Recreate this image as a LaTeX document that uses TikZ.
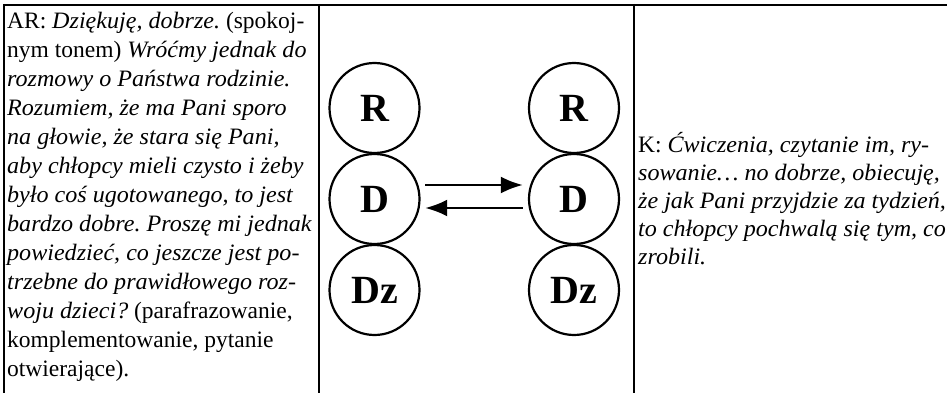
\documentclass[tikz,border=0pt]{standalone}
\usepackage{fontspec}
\setmainfont{Liberation Serif}[ItalicFeatures={FakeStretch=1.025}]
\usetikzlibrary{arrows.meta}
\begin{document}
\frenchspacing
\begin{tikzpicture}[x=1pt,y=-1pt,
  rule/.style={line width=2pt},
  member/.style={circle,draw,line width=2.2pt,minimum size=90pt,inner sep=0pt,
    font=\fontsize{40}{40}\selectfont\bfseries},
  flow/.style={line width=2.8pt,-{Latex[length=22pt,width=17pt]}},
  celltext/.style={align=left,inner sep=0pt}]
\useasboundingbox (0,0) rectangle (947,393);
% table rules
\draw[rule] (3,5) -- (947,5);
\draw[rule] (4,4) -- (4,393);
\draw[rule] (319,4) -- (319,393);
\draw[rule] (634,4) -- (634,393);
% left text
\node[celltext,anchor=north west,font=\fontsize{23.5}{29}\selectfont] (lefttext) at (7,12) {%
AR: \textit{Dziękuję, dobrze.} (spokoj-\\
nym tonem) \textit{Wróćmy jednak do}\\
\textit{rozmowy o Państwa rodzinie.}\\
\textit{Rozumiem, że ma Pani sporo}\\
\textit{na głowie, że stara się Pani,}\\
\textit{aby chłopcy mieli czysto i żeby}\\
\textit{było coś ugotowanego, to jest}\\
\textit{bardzo dobre. Proszę mi jednak}\\
\textit{powiedzieć, co jeszcze jest po-}\\
\textit{trzebne do prawidłowego roz-}\\
\textit{woju dzieci?} (parafrazowanie,\\
komplementowanie, pytanie\\
otwierające).};
% right text
\node[celltext,anchor=north west,font=\fontsize{23.5}{28}\selectfont] (righttext) at (638,132) {%
K: \textit{Ćwiczenia, czytanie im, ry-}\\
\textit{sowanie… no dobrze, obiecuję,}\\
\textit{że jak Pani przyjdzie za tydzień,}\\
\textit{to chłopcy pochwalą się tym, co}\\
\textit{zrobili.}};
% circles
\node[member] (R1) at (374.5,108) {R};
\node[member] (D1) at (374.5,199) {D};
\node[member] (Z1) at (374.5,290) {Dz};
\node[member] (R2) at (574,108) {R};
\node[member] (D2) at (574,199) {D};
\node[member] (Z2) at (574,290) {Dz};
% arrows
\draw[flow,shorten <=4.5pt,shorten >=5pt] ([yshift=14pt]D1.east) -- ([yshift=14pt]D2.west);
\draw[flow,shorten <=5pt,shorten >=4.5pt] ([yshift=-9pt]D2.west) -- ([yshift=-9pt]D1.east);
\end{tikzpicture}
\end{document}
